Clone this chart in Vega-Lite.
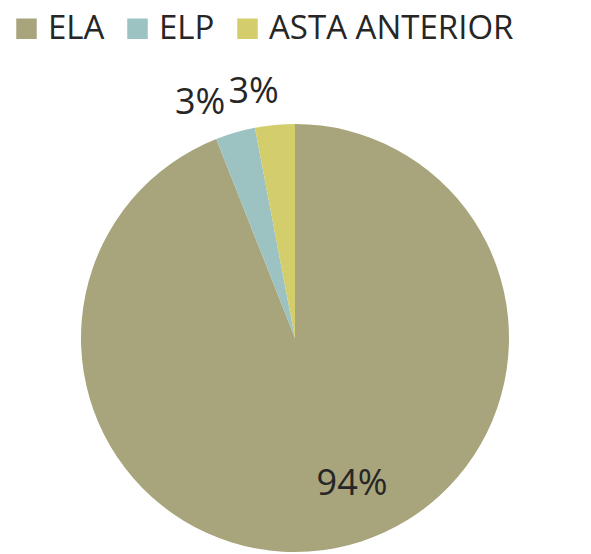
{
  "$schema": "https://vega.github.io/schema/vega-lite/v6.json",
  "autosize": "none",
  "width": 428,
  "height": 428,
  "padding": {"left": 81, "top": 124, "right": 82, "bottom": 2},
  "background": "white",
  "config": {"view": {"stroke": null}, "font": "Open Sans"},
  "data": {
    "values": [
      {"cat": "ELA", "value": 94, "label": "94%"},
      {"cat": "ELP", "value": 3, "label": "3%"},
      {"cat": "ASTA ANTERIOR", "value": 3, "label": "3%"}
    ]
  },
  "encoding": {
    "theta": {"field": "value", "type": "quantitative", "stack": true},
    "order": {"field": "value", "type": "quantitative", "sort": "descending"}
  },
  "layer": [
    {
      "mark": {"type": "arc", "outerRadius": 214},
      "encoding": {
        "color": {
          "field": "cat",
          "type": "nominal",
          "sort": ["ELA", "ELP", "ASTA ANTERIOR"],
          "scale": {"domain": ["ELA", "ELP", "ASTA ANTERIOR"], "range": ["#a8a57c", "#9cc2c2", "#d4cd6c"]},
          "legend": {
            "title": null,
            "orient": "none",
            "direction": "horizontal",
            "legendX": -71,
            "legendY": -112,
            "symbolType": "square",
            "symbolSize": 420,
            "symbolStrokeWidth": 0,
            "labelFontSize": 33,
            "labelColor": "#262626",
            "labelFont": "Open Sans",
            "labelOffset": 5,
            "columnPadding": 16,
            "labelLimit": 400
          }
        }
      }
    },
    {
      "mark": {"type": "text", "radius": 155, "fontSize": 36, "color": "#262626", "dx": 28, "dy": -6},
      "encoding": {
        "text": {"condition": {"test": "datum.cat == 'ELA'", "field": "label"}, "value": ""}
      }
    },
    {
      "mark": {"type": "text", "radius": 290, "fontSize": 36, "color": "#262626", "dx": -14, "dy": 43},
      "encoding": {
        "text": {"condition": {"test": "datum.cat != 'ELA'", "field": "label"}, "value": ""}
      }
    }
  ]
}
